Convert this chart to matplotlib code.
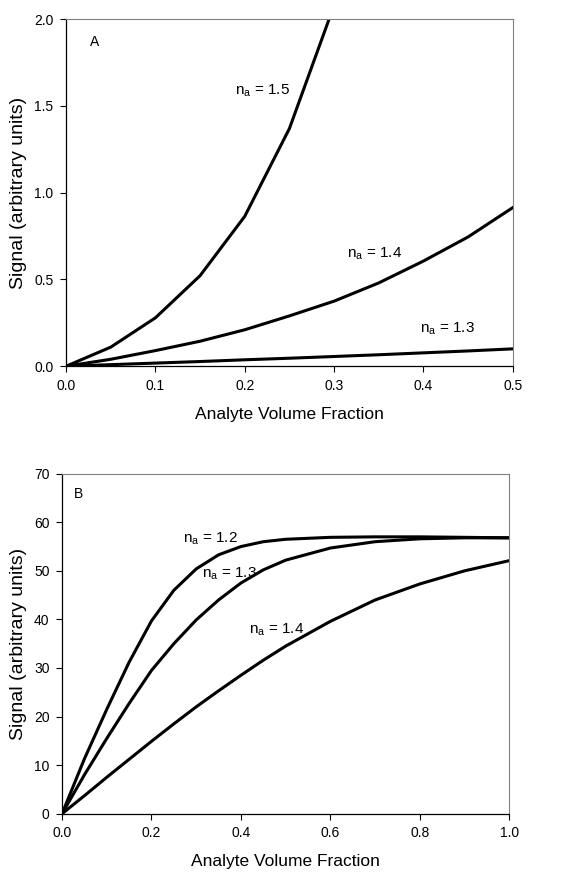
import matplotlib
matplotlib.use("Agg")
import matplotlib.pyplot as plt

plt.rcParams['font.family'] = ['Liberation Sans', 'DejaVu Sans']

# panel A: signal vs analyte volume fraction, small range
xa = [0.0, 0.05, 0.1, 0.15, 0.2, 0.25, 0.3]
a_15 = [0.0, 0.11, 0.279, 0.522, 0.864, 1.37, 2.08]
xa_long = [0.0, 0.05, 0.1, 0.15, 0.2, 0.25, 0.3, 0.35, 0.4, 0.45, 0.5]
a_14 = [0.0, 0.04, 0.09, 0.144, 0.21, 0.29, 0.375, 0.48, 0.606, 0.745, 0.914]
a_13 = [0.0, 0.009, 0.018, 0.027, 0.037, 0.046, 0.056, 0.066, 0.077, 0.088, 0.1]

# panel B: full range
xb = [0.0, 0.05, 0.1, 0.15, 0.2, 0.25, 0.3, 0.35, 0.4, 0.45, 0.5, 0.6, 0.7, 0.8, 0.9, 1.0]
b_12 = [0.0, 11.3, 21.5, 31.2, 39.7, 46.0, 50.4, 53.3, 55.0, 56.0, 56.5, 56.9, 57.0, 57.0, 56.9, 56.8]
b_13 = [0.0, 8.0, 15.5, 22.7, 29.5, 35.0, 39.9, 44.0, 47.5, 50.2, 52.2, 54.7, 56.0, 56.6, 56.8, 56.8]
b_14 = [0.0, 3.7, 7.5, 11.2, 14.9, 18.5, 22.0, 25.3, 28.5, 31.6, 34.5, 39.6, 44.0, 47.3, 50.0, 52.1]

fig = plt.figure(figsize=(5.8, 8.74), dpi=100)
ax1 = fig.add_axes([0.114, 0.581, 0.770, 0.397])
ax2 = fig.add_axes([0.107, 0.069, 0.771, 0.389])


def style(ax):
    for s in ['top', 'right']:
        ax.spines[s].set_color('#808080')
        ax.spines[s].set_linewidth(0.8)
    for s in ['left', 'bottom']:
        ax.spines[s].set_linewidth(0.9)
    ax.tick_params(direction='out', length=4, width=0.8, labelsize=10, pad=5)
    ax.set_xlabel('Analyte Volume Fraction', fontsize=12.5, labelpad=10)
    ax.set_ylabel('Signal (arbitrary units)', fontsize=14, labelpad=5)


lw = 2.2
ax1.plot(xa, a_15, color='black', lw=lw)
ax1.plot(xa_long, a_14, color='black', lw=lw)
ax1.plot(xa_long, a_13, color='black', lw=lw)
ax1.set_xlim(0, 0.5)
ax1.set_ylim(0, 2.0)
ax1.set_xticks([0.0, 0.1, 0.2, 0.3, 0.4, 0.5])
ax1.set_yticks([0.0, 0.5, 1.0, 1.5, 2.0])
ax1.xaxis.set_major_formatter(matplotlib.ticker.FormatStrFormatter('%.1f'))
ax1.yaxis.set_major_formatter(matplotlib.ticker.FormatStrFormatter('%.1f'))
style(ax1)
ax1.text(0.054, 0.935, 'A', transform=ax1.transAxes, fontsize=10, va='center')
lab = r'n$_\mathregular{a}$ = %s'
ax1.text(0.189, 1.59, lab % '1.5', fontsize=11, va='center')
ax1.text(0.314, 0.649, lab % '1.4', fontsize=11, va='center')
ax1.text(0.396, 0.216, lab % '1.3', fontsize=11, va='center')

ax2.plot(xb, b_12, color='black', lw=lw)
ax2.plot(xb, b_13, color='black', lw=lw)
ax2.plot(xb, b_14, color='black', lw=lw)
ax2.set_xlim(0, 1.0)
ax2.set_ylim(0, 70)
ax2.set_xticks([0.0, 0.2, 0.4, 0.6, 0.8, 1.0])
ax2.set_yticks(range(0, 71, 10))
ax2.xaxis.set_major_formatter(matplotlib.ticker.FormatStrFormatter('%.1f'))
style(ax2)
ax2.text(0.027, 0.94, 'B', transform=ax2.transAxes, fontsize=10, va='center')
ax2.text(0.270, 56.7, lab % '1.2', fontsize=11, va='center')
ax2.text(0.313, 49.4, lab % '1.3', fontsize=11, va='center')
ax2.text(0.417, 37.9, lab % '1.4', fontsize=11, va='center')

fig.savefig('out.png', dpi=100)
